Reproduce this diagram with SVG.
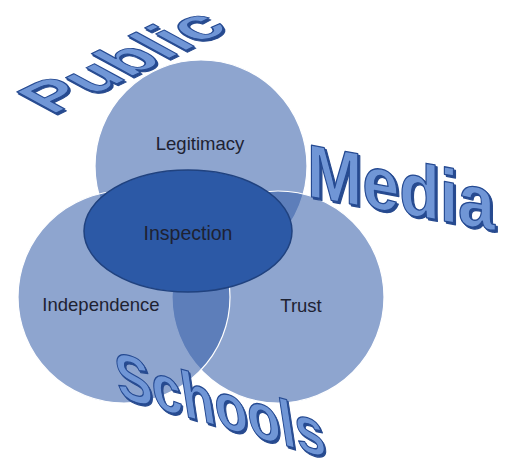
<svg xmlns="http://www.w3.org/2000/svg" width="518" height="463" viewBox="0 0 518 463">
<style>
.c{fill:#3760aa;fill-opacity:0.566;stroke:#ffffff;stroke-width:1.2}
.lbl{font-family:"Liberation Sans",Arial,sans-serif;font-size:18.5px;fill:#1e2232;text-anchor:middle}
.wa{font-family:"Liberation Sans",Arial,sans-serif;font-weight:bold;fill:#7096d6;stroke:#254a92;stroke-width:1.3;stroke-linejoin:round}
.sh{font-family:"Liberation Sans",Arial,sans-serif;font-weight:bold;fill:#284b8f;stroke:#284b8f;stroke-width:1.3;stroke-linejoin:round}
</style>
<rect width="518" height="463" fill="#ffffff"/>
<g id="legitimacy"><circle class="c" cx="201" cy="166" r="106"/><text class="lbl" x="200" y="150">Legitimacy</text></g>
<g id="trust"><circle class="c" cx="278" cy="297" r="106"/><text class="lbl" x="301" y="312">Trust</text></g>
<g id="independence"><circle class="c" cx="124" cy="297" r="106"/><text class="lbl" x="101" y="311">Independence</text></g>
<g id="inspection"><ellipse cx="188" cy="231" rx="104" ry="61" fill="#2c59a6" stroke="#20427f" stroke-width="1.5"/><text class="lbl" x="188" y="240" style="font-size:19.5px">Inspection</text></g>
<g id="public">
<text class="sh" font-size="63" transform="matrix(0.95,-0.46,0.90,0.49,53.5,117)">Public</text>
<text class="wa" font-size="63" transform="matrix(0.95,-0.46,0.90,0.49,52,115)">Public</text>
</g>
<g id="media">
<text class="sh" font-size="75" textLength="188" lengthAdjust="spacingAndGlyphs" transform="matrix(1,0.183,0,1,309,198)">Media</text>
<text class="wa" font-size="75" textLength="188" lengthAdjust="spacingAndGlyphs" transform="matrix(1,0.183,0,1,307,196)">Media</text>
</g>
<g id="schools">
<text class="sh" font-size="68" transform="matrix(0.79,0.23,0.15,0.98,120.5,399)">Schools</text>
<text class="wa" font-size="68" transform="matrix(0.79,0.23,0.15,0.98,119,397)">Schools</text>
</g>
<g id="connectors"/>
</svg>
